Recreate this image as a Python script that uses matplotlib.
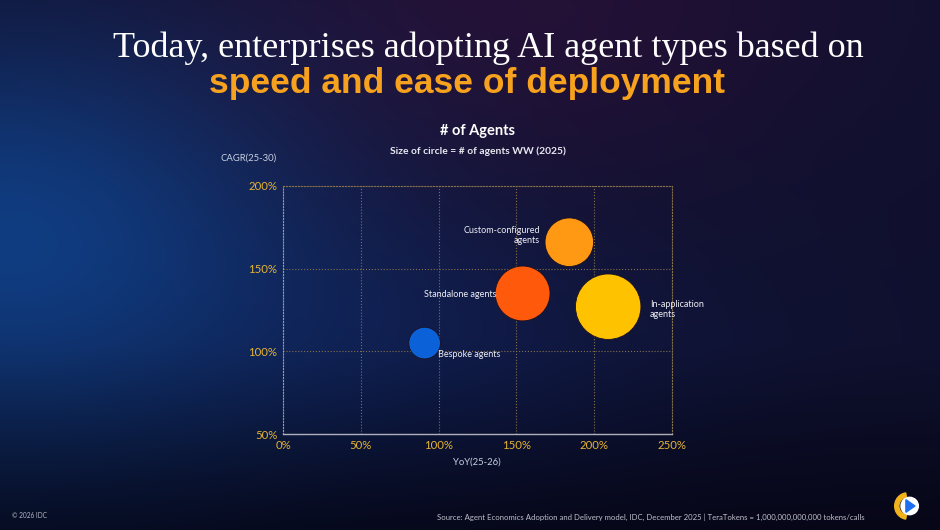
import matplotlib
matplotlib.use("Agg")
import matplotlib.pyplot as plt
import numpy as np
from matplotlib.patches import Circle, Wedge, Polygon
from matplotlib.ticker import FuncFormatter

# ---- data -----------------------------------------------------------------
agents = ["Bespoke agents", "Standalone agents", "Custom-configured\nagents", "In-application\nagents"]
yoy = [91, 154, 184, 209]          # YoY(25-26), %
cagr = [105, 135, 166, 127]        # CAGR(25-30), %
rel_size = [1.0, 3.0, 2.35, 4.27]  # relative # of agents WW (2025)
colors = ["#0b62d8", "#ff5a0c", "#ff9812", "#ffc200"]
x_ticks = [0, 50, 100, 150, 200, 250]
y_ticks = [50, 100, 150, 200]

W, H = 9.4, 5.3
fig = plt.figure(figsize=(W, H), dpi=100)

# ---- background gradient ---------------------------------------------------
bg = fig.add_axes([0, 0, 1, 1])
bg.set_axis_off()
yy, xx = np.mgrid[0:1:265j, 0:1:470j]
base = np.array([0.06, 0.065, 0.18])
img = np.ones(yy.shape + (3,)) * base
blue = np.exp(-(((xx - 0.0) / 0.33) ** 2 + ((yy - 0.45) / 0.4) ** 2))
haze = np.exp(-(((xx - 0.45) / 0.3) ** 2 + ((yy - 0.65) / 0.25) ** 2))
purple = np.exp(-(((xx - 0.55) / 0.35) ** 2 + ((yy - 0.0) / 0.35) ** 2))
dark = np.clip((yy - 0.65) / 0.35, 0, 1)
img += blue[..., None] * np.array([0.0, 0.17, 0.32])
img += haze[..., None] * np.array([0.0, 0.03, 0.08])
img += purple[..., None] * np.array([0.08, 0.0, 0.03])
img -= dark[..., None] * np.array([0.035, 0.04, 0.09])
img = np.clip(img, 0, 1)
bg.imshow(img, extent=[0, 1, 0, 1], aspect="auto", origin="upper")
bg.set_xlim(0, 1); bg.set_ylim(0, 1)

# ---- titles ------------------------------------------------------------------
fig.text(0.519, 1 - 48 / 530, "Today, enterprises adopting AI agent types based on",
         family="Liberation Serif", fontsize=26, color="white", ha="center", va="center")
fig.text(0.497, 1 - 84 / 530, "speed and ease of deployment",
         family="Liberation Sans", fontweight="bold", fontsize=25.5, color="#f7a21e",
         ha="center", va="center")
fig.text(0.508, 1 - 131 / 530, "# of Agents", family="Lato", fontweight="bold",
         fontsize=10.5, color="white", ha="center", va="center")
fig.text(0.508, 1 - 151 / 530, "Size of circle = # of agents WW (2025)", family="Lato",
         fontweight="bold", fontsize=7.4, color="#e8e8f0", ha="center", va="center")

# ---- bubble chart ------------------------------------------------------------
ax = fig.add_axes([283 / 940, 1 - 434 / 530, 389 / 940, 248 / 530])
ax.set_facecolor("none")
ax.set_xlim(0, 250); ax.set_ylim(50, 200)
sizes = [s * 520 for s in rel_size]
ax.scatter(yoy, cagr, s=sizes, c=colors, edgecolors="#1a1020", linewidths=0.6, zorder=3)

gridc = "#86704a"
ax.set_xticks(x_ticks); ax.set_yticks(y_ticks)
ax.grid(True, color=gridc, linestyle=":", linewidth=0.8)
for side in ["top", "right", "left"]:
    ax.spines[side].set_color(gridc); ax.spines[side].set_linestyle(":")
    ax.spines[side].set_linewidth(0.8)
ax.spines["left"].set_color("#9a9aa8")
ax.spines["bottom"].set_color("#b0b0bc"); ax.spines["bottom"].set_linewidth(1.0)
pct = FuncFormatter(lambda v, _: f"{v:.0f}%")
ax.xaxis.set_major_formatter(pct); ax.yaxis.set_major_formatter(pct)
ax.tick_params(length=0, colors="#e6b432", labelsize=8.2, pad=4)
for lab in ax.get_xticklabels() + ax.get_yticklabels():
    lab.set_family("Lato")
ax.set_axisbelow(True)

lab_kw = dict(family="Lato", fontsize=6.5, color="#eeeef5", va="center")
ax.annotate(agents[0], (yoy[0], cagr[0]), xytext=(10, -8), textcoords="offset points", ha="left", **lab_kw)
ax.annotate(agents[1], (yoy[1], cagr[1]), xytext=(-19, -1), textcoords="offset points", ha="right", **lab_kw)
ax.annotate(agents[2], (yoy[2], cagr[2]), xytext=(-21, 5), textcoords="offset points", ha="right",
            multialignment="right", **lab_kw)
ax.annotate(agents[3], (yoy[3], cagr[3]), xytext=(30, -2), textcoords="offset points", ha="left",
            multialignment="left", **lab_kw)

fig.text(249 / 940, 1 - 158 / 530, "CAGR(25-30)", family="Lato", fontsize=6.8,
         color="#c8d0e0", ha="center", va="center")
fig.text(477 / 940, 1 - 462 / 530, "YoY(25-26)", family="Lato", fontsize=6.8,
         color="#c8d0e0", ha="center", va="center")

# ---- footer ------------------------------------------------------------------
fig.text(12 / 940, 1 - 515 / 530, "\u00a9 2026 IDC", family="Lato", fontsize=4.7,
         color="#b8b8c4", ha="left", va="center")
fig.text(865 / 940, 1 - 517 / 530,
         "Source: Agent Economics Adoption and Delivery model, IDC, December 2025 | "
         "TeraTokens = 1,000,000,000,000 tokens/calls",
         family="Lato", fontsize=5.6, color="#c0c0cc", ha="right", va="center")

# logo
cx, cy, r = 908, 506, 14
lx = fig.add_axes([(cx - r) / 940, 1 - (cy + r) / 530, 2 * r / 940, 2 * r / 530])
lx.set_xlim(-1, 1); lx.set_ylim(-1, 1); lx.set_axis_off(); lx.set_aspect("equal")
lx.add_patch(Wedge((0, 0), 0.95, 100, 260, width=0.3, color="#f2b21c"))
lx.add_patch(Circle((0.12, 0), 0.62, color="white"))
lx.add_patch(Polygon([(-0.15, 0.45), (0.5, 0), (-0.15, -0.45)], color="#1e6ff0"))

fig.savefig("out.png", dpi=100)
